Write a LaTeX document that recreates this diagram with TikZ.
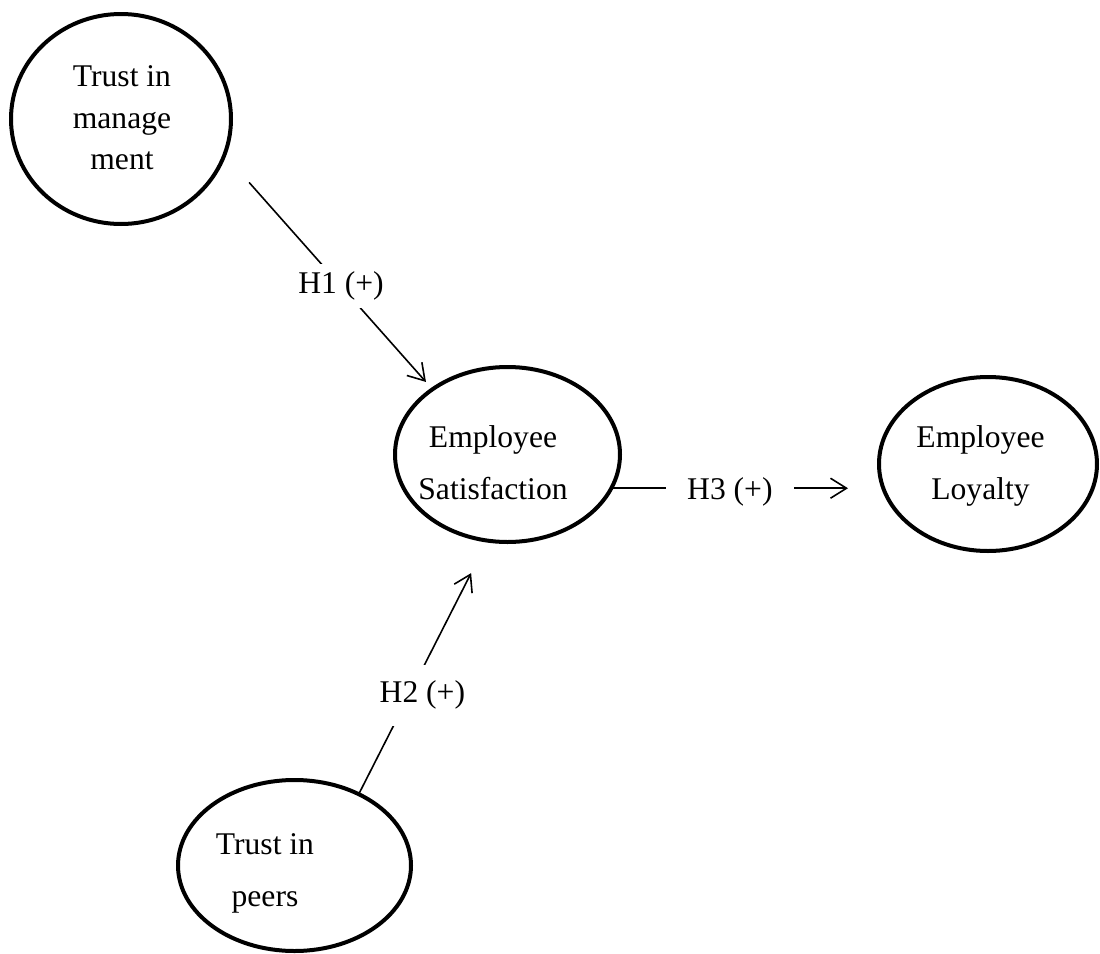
\documentclass[tikz,border=0pt]{standalone}
\usepackage{fontspec}
\setmainfont{Liberation Serif}
\usetikzlibrary{shapes.geometric, arrows.meta}

\begin{document}
\begin{tikzpicture}[x=0.5pt, y=-0.5pt, line join=round, line cap=round,
    latent/.style={draw, ellipse, line width=2pt, inner sep=0pt, outer sep=0pt},
    txt/.style={align=center, font=\fontsize{15.8}{26}\selectfont},
    lien/.style={line width=0.8pt},
    fleche/.style={lien, -{Straight Barb[length=8pt, width=10pt]}},
    hyp/.style={fill=white, inner xsep=2pt, inner ysep=4pt, font=\fontsize{15.8}{19}\selectfont}]

    \useasboundingbox (0, 0) rectangle (1100, 954);

    % Ellipses des construits
    \node[latent, minimum width=110pt, minimum height=105pt] (tm) at (121, 119) {};
    \node[latent, minimum width=112.5pt, minimum height=87.5pt] (es) at (507.5, 454.5) {};
    \node[latent, minimum width=109pt, minimum height=87pt] (el) at (988, 464) {};
    \node[latent, minimum width=116.5pt, minimum height=85.5pt] (tp) at (294.5, 865.5) {};

    % Textes dans les ellipses
    \node[txt, font=\fontsize{15.8}{20.75}\selectfont] (tm-txt) at (122, 117.7) {Trust in\\manage\\ment};
    \node[txt] (es-txt) at (493, 462.2) {Employee\\Satisfaction};
    \node[txt] (el-txt) at (980.5, 465.6) {Employee\\Loyalty};
    \node[txt] (tp-txt) at (265, 873.6) {Trust in\\peers};

    % Hypotheses
    \draw[fleche, shorten <=18.8pt, shorten >=4.9pt] (tm.-19) -- node[hyp, pos=0.56] (h1) {H1 (+)} (es.139);
    \draw[fleche, shorten >=18.2pt] (tp.48) -- node[hyp, pos=0.39, xshift=6.7pt, inner ysep=8pt] (h2) {H2 (+)} (es.-103);
    \draw[fleche, shorten >=15.5pt] (es.-18) -- node[hyp, pos=0.443, inner xsep=10.5pt, yshift=-1.8pt] (h3) {H3 (+)} (es.-18 -| el.west);

\end{tikzpicture}
\end{document}
